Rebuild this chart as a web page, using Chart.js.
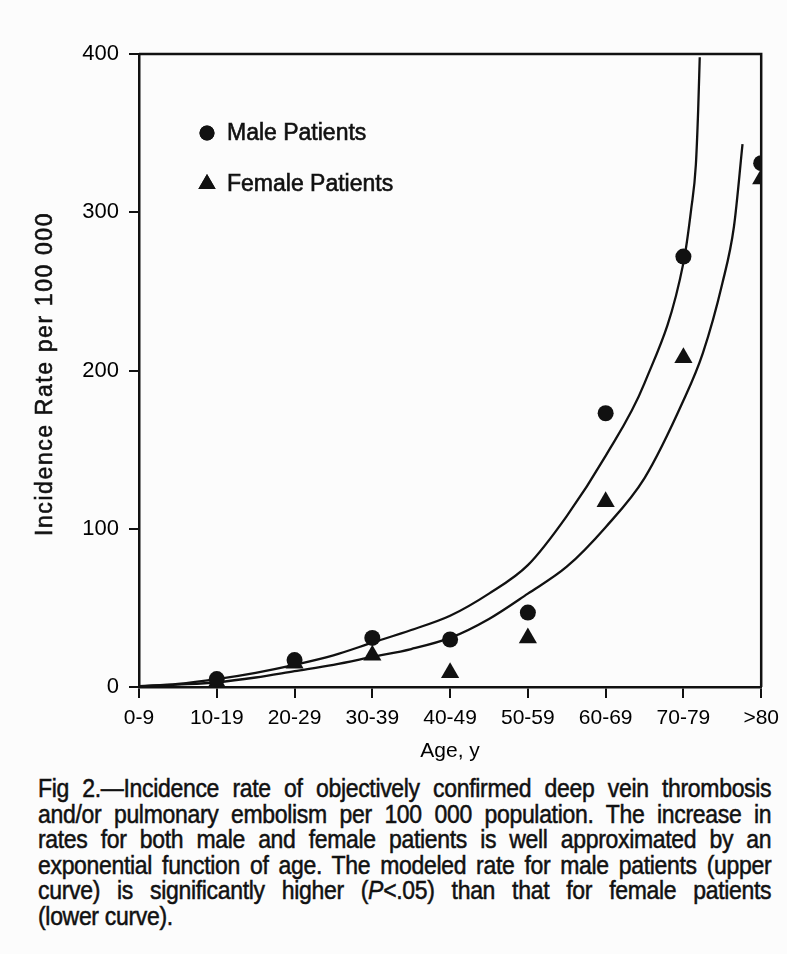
<!DOCTYPE html>
<html>
<head>
<meta charset="utf-8">
<script src="https://cdn.jsdelivr.net/npm/chart.js@4.4.1/dist/chart.umd.min.js"></script>
<style>
    body { margin: 0; background: #fcfcfc; }
    #wrap { position: absolute; left: 0; top: 0; width: 787px; height: 770px; }
    #caption {
        position: absolute; left: 38px; top: 776px; width: 797px;
        transform: scaleX(0.92); transform-origin: 0 0;
        font-family: 'Liberation Sans', Arial, sans-serif;
        font-size: 25px; line-height: 25.6px; color: #111;
        letter-spacing: -0.35px; -webkit-text-stroke: 0.5px #111;
    }
    #caption div { text-align: justify; text-align-last: justify; white-space: nowrap; }
    #caption div.last { text-align-last: left; }
</style>
</head>
<body>
<div id="wrap"><canvas id="chartCanvas"></canvas></div>
<div id="caption">
    <div>Fig 2.—Incidence rate of objectively confirmed deep vein thrombosis</div>
    <div>and/or pulmonary embolism per 100 000 population. The increase in</div>
    <div>rates for both male and female patients is well approximated by an</div>
    <div>exponential function of age. The modeled rate for male patients (upper</div>
    <div>curve) is significantly higher (<i>P</i>&lt;.05) than that for female patients</div>
    <div class="last">(lower curve).</div>
</div>
<script>
// DATA
const ageGroups = ['0-9', '10-19', '20-29', '30-39', '40-49', '50-59', '60-69', '70-79', '>80'];
const yTicks = [0, 100, 200, 300, 400];

const maleRates = [null, 5, 17, 31, 30, 47, 173, 272, 331];
const femaleRates = [null, 3, 15, 20, 9, 31, 117, 208, 321];

// fitted curves (x in age-group steps)
const maleCurveX = [0, 0.5, 1, 1.5, 2, 2.5, 3, 3.5, 4, 4.5, 5, 5.5, 6, 6.5, 7, 7.1, 7.16, 7.19, 7.21];
const maleCurveY = [0.5, 2, 5, 9, 14, 20, 28, 36, 45, 59, 77, 108, 146, 192, 268, 302, 330, 365, 398];
const femaleCurveX = [0, 0.5, 1, 1.5, 2, 2.5, 3, 3.5, 4, 4.5, 5, 5.5, 6, 6.5, 7, 7.25, 7.5, 7.65, 7.76];
const femaleCurveY = [0.3, 1.5, 3, 6, 10, 14, 19, 24, 31, 43, 59, 76, 101, 132, 181, 211, 255, 291, 343];

const ink = '#111';
const font = "'Liberation Sans', Arial, sans-serif";

function toPoints(xs, ys) {
    return xs.map((x, i) => ({ x: x, y: ys[i] }));
}

// BOX, LEGEND, Y TITLE
const framePlugin = {
    id: 'frame',
    afterDraw(chart) {
        const { ctx, chartArea } = chart;
        ctx.save();
        ctx.strokeStyle = ink;
        ctx.lineWidth = 2.5;
        ctx.beginPath();
        ctx.moveTo(chartArea.left, chartArea.top);
        ctx.lineTo(chartArea.right, chartArea.top);
        ctx.lineTo(chartArea.right, chartArea.bottom);
        ctx.stroke();

        const items = [
            { text: 'Male Patients', style: 'circle', r: 7.5, dy: 79 },
            { text: 'Female Patients', style: 'triangle', r: 10, dy: 130 }
        ];
        ctx.font = '23px ' + font;
        ctx.textBaseline = 'middle';
        ctx.lineWidth = 0.6;
        items.forEach(it => {
            const y = chartArea.top + it.dy;
            ctx.fillStyle = ink;
            Chart.helpers.drawPoint(ctx, { pointStyle: it.style, radius: it.r, borderWidth: 0 }, chartArea.left + 68, y);
            ctx.fill();
            ctx.fillText(it.text, chartArea.left + 88, y + 1);
            ctx.strokeText(it.text, chartArea.left + 88, y + 1);
        });

        // rotated y-axis title
        ctx.translate(46, 374);
        ctx.rotate(-Math.PI / 2);
        ctx.textAlign = 'center';
        ctx.font = '23px ' + font;
        ctx.letterSpacing = '1.6px';
        ctx.fillText('Incidence Rate per 100 000', 0, 0);
        ctx.strokeText('Incidence Rate per 100 000', 0, 0);
        ctx.restore();
    }
};

const ctx = document.getElementById('chartCanvas').getContext('2d');
new Chart(ctx, {
    type: 'scatter',
    data: {
        datasets: [
            {
                label: 'Male Patients',
                data: maleRates.map((v, i) => ({ x: i, y: v })),
                pointStyle: 'circle',
                pointRadius: 8,
                backgroundColor: ink,
                borderWidth: 0
            },
            {
                label: 'Female Patients',
                data: femaleRates.map((v, i) => ({ x: i, y: v })),
                pointStyle: 'triangle',
                pointRadius: 10.5,
                backgroundColor: ink,
                borderWidth: 0
            },
            {
                label: 'Male model',
                type: 'line',
                data: toPoints(maleCurveX, maleCurveY),
                borderColor: ink,
                borderWidth: 2.3,
                pointRadius: 0,
                cubicInterpolationMode: 'monotone',
                fill: false
            },
            {
                label: 'Female model',
                type: 'line',
                data: toPoints(femaleCurveX, femaleCurveY),
                borderColor: ink,
                borderWidth: 2.3,
                pointRadius: 0,
                cubicInterpolationMode: 'monotone',
                fill: false
            }
        ]
    },
    options: {
        responsive: true,
        maintainAspectRatio: false,
        animation: false,
        layout: { padding: { top: 54, right: 22, left: 0, bottom: 0 } },
        plugins: {
            legend: { display: false },
            tooltip: { enabled: false }
        },
        scales: {
            x: {
                type: 'linear',
                min: 0,
                max: 8,
                afterFit: (scale) => { scale.height = 83; },
                afterBuildTicks: (scale) => { scale.ticks = ageGroups.map((g, i) => ({ value: i })); },
                grid: { drawOnChartArea: false, color: ink, lineWidth: 2, tickLength: 11 },
                border: { color: ink, width: 2.5 },
                ticks: {
                    color: '#000',
                    padding: 8,
                    maxRotation: 0,
                    autoSkip: false,
                    font: { family: font, size: 21 },
                    callback: (v) => ageGroups[v]
                },
                title: {
                    display: true,
                    text: 'Age, y',
                    color: '#000',
                    padding: { top: 0, bottom: 6 },
                    font: { family: font, size: 21 }
                }
            },
            y: {
                min: 0,
                max: 400,
                afterFit: (scale) => { scale.width = 139; },
                afterBuildTicks: (scale) => { scale.ticks = yTicks.map(v => ({ value: v })); },
                grid: { drawOnChartArea: false, color: ink, lineWidth: 2, tickLength: 10 },
                border: { color: ink, width: 2.5 },
                ticks: {
                    color: '#000',
                    padding: 10,
                    font: { family: font, size: 22 }
                },
                title: { display: false }
            }
        }
    },
    plugins: [framePlugin]
});
</script>
</body>
</html>
